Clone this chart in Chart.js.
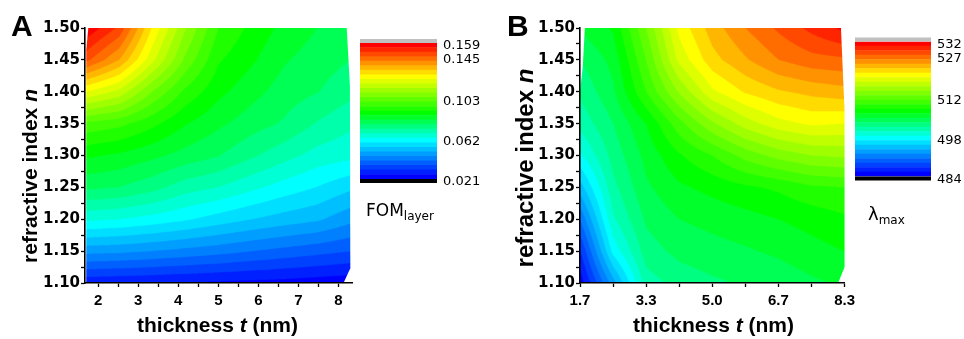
<!DOCTYPE html>
<html>
<head>
<meta charset="utf-8">
<title>FOM_layer and λmax versus thickness and refractive index</title>
<script src="https://cdn.jsdelivr.net/npm/chart.js@4.4.1/dist/chart.umd.min.js"></script>
<style>
  html, body { margin: 0; padding: 0; background: #fff; }
  #stage { position: relative; width: 964px; height: 339px; overflow: hidden;
           font-family: "Liberation Sans", Arial, sans-serif; color: #000; }
  canvas { position: absolute; top: 0; }
  .txt { position: absolute; white-space: nowrap; line-height: 1; }
  .panel { font-weight: bold; font-size: 30px; }
  .xtitle { font-weight: bold; font-size: 21px; transform: translateX(-50%); }
  .ytitle { font-weight: bold; transform: translate(-50%, -50%) rotate(-90deg); }
  .cbtitle { font-family: "DejaVu Sans", sans-serif; }
  .cbtitle span { position: relative; font-size: 12px; }
</style>
</head>
<body>
<div id="stage">
  <canvas id="mapA" width="360" height="339" style="left:0px"></canvas>
  <canvas id="barA" width="124" height="339" style="left:356px"></canvas>
  <canvas id="mapB" width="380" height="339" style="left:480px"></canvas>
  <canvas id="barB" width="113" height="339" style="left:851px"></canvas>

  <div class="txt panel" style="left:11px; top:10.6px">A</div>
  <div class="txt panel" style="left:507px; top:10.6px">B</div>

  <div class="txt xtitle" style="left:217.5px; top:314.2px">thickness <i>t</i> (nm)</div>
  <div class="txt xtitle" style="left:713.5px; top:314.2px">thickness <i>t</i> (nm)</div>

  <div class="txt ytitle" style="left:29.4px; top:175.5px; font-size:21px">refractive index <i>n</i></div>
  <div class="txt ytitle" style="left:525px; top:167.5px; font-size:24px">refractive index <i>n</i></div>

  <div class="txt cbtitle" style="left:366px; top:201.6px; font-size:17px">FOM<span style="top:4px">layer</span></div>
  <div class="txt cbtitle" style="left:868px; top:204.8px; font-size:18px">λ<span style="top:4px">max</span></div>
</div>

<script>
// ---------------- data ----------------
// sampling grid shared by both maps
const thickness = [1.7, 2.525, 3.35, 4.175, 5.0, 5.825, 6.65, 7.475, 8.3];        // t (nm)
const refractiveIndex = [1.10, 1.15, 1.20, 1.25, 1.30, 1.35, 1.40, 1.45, 1.50];   // n

// FOM_layer: one row per refractive index (1.10 -> 1.50), columns follow thickness
const fomLayer = [
  [0.0265, 0.0261, 0.0256, 0.0251, 0.0247, 0.0242, 0.0238, 0.0231, 0.0224],
  [0.0455, 0.0450, 0.0439, 0.0425, 0.0411, 0.0394, 0.0378, 0.0363, 0.0348],
  [0.0634, 0.0624, 0.0606, 0.0584, 0.0557, 0.0532, 0.0511, 0.0493, 0.0454],
  [0.0771, 0.0761, 0.0733, 0.0691, 0.0669, 0.0636, 0.0604, 0.0576, 0.0541],
  [0.0863, 0.0845, 0.0820, 0.0791, 0.0765, 0.0724, 0.0687, 0.0652, 0.0638],
  [0.0980, 0.0960, 0.0913, 0.0857, 0.0818, 0.0784, 0.0756, 0.0712, 0.0679],
  [0.1222, 0.1163, 0.1037, 0.0935, 0.0867, 0.0825, 0.0786, 0.0764, 0.0730],
  [0.1466, 0.1360, 0.1190, 0.1028, 0.0906, 0.0862, 0.0813, 0.0786, 0.0762],
  [0.1585, 0.1489, 0.1263, 0.1089, 0.0946, 0.0888, 0.0840, 0.0808, 0.0790]
];

// λmax (nm): one row per refractive index (1.10 -> 1.50), columns follow thickness
const lambdaMax = [
  [484.5, 492.8, 500.8, 502.2, 502.9, 503.4, 503.8, 504.5, 505.1],
  [486.9, 497.3, 502.4, 503.7, 504.2, 504.6, 505.1, 505.8, 506.4],
  [490.4, 499.7, 503.5, 504.8, 505.3, 505.8, 506.4, 507.0, 507.7],
  [494.4, 501.1, 504.5, 506.1, 506.9, 507.7, 508.3, 509.3, 509.6],
  [498.1, 502.2, 505.3, 507.8, 509.6, 511.8, 513.4, 514.4, 514.7],
  [500.5, 503.2, 506.4, 510.6, 514.1, 516.8, 518.6, 519.5, 519.2],
  [501.9, 504.5, 509.6, 514.6, 518.9, 521.0, 522.2, 522.9, 523.4],
  [503.2, 505.3, 511.2, 518.1, 521.8, 523.8, 525.6, 526.6, 526.9],
  [505.0, 506.6, 512.8, 519.7, 523.2, 525.6, 527.5, 529.3, 530.9]
];

// outline of the computed region, as (t, n) corners
const domainA = [[1.70, 1.10], [8.13, 1.10], [8.30, 1.123], [8.29, 1.41], [8.21, 1.50], [1.75, 1.50], [1.70, 1.465]];
const domainB = [[1.70, 1.10], [8.14, 1.10], [8.30, 1.125], [8.30, 1.37], [8.21, 1.50], [1.82, 1.50], [1.77, 1.44], [1.70, 1.40]];

// colour scales
const fomRange = [0.021, 0.159];
const lambdaRange = [484, 532];
const levelCount = 30;

// tick labels
const thicknessTicksA = [2, 3, 4, 5, 6, 7, 8];
const thicknessTicksB = [1.7, 3.35, 5.0, 6.65, 8.3];
const thicknessLabelsB = ['1.7', '3.3', '5.0', '6.7', '8.3'];
const indexTicks = [1.10, 1.15, 1.20, 1.25, 1.30, 1.35, 1.40, 1.45, 1.50];
const indexLabels = ['1.10', '1.15', '1.20', '1.25', '1.30', '1.35', '1.40', '1.45', '1.50'];
const fomTicks = [0.021, 0.062, 0.103, 0.145, 0.159];
const fomLabels = ['0.021', '0.062', '0.103', '0.145', '0.159'];
const lambdaTicks = [484, 498, 512, 527, 532];
const lambdaLabels = ['484', '498', '512', '527', '532'];

// ---------------- styling helpers ----------------
const rainbowStops = [[0, [0, 0, 255]], [8, [0, 255, 255]], [14, [0, 255, 0]], [22, [255, 255, 0]], [29, [255, 0, 0]]];
function rainbow(count) {
  const out = [];
  for (let k = 0; k < count; k++) {
    let a = 0;
    while (a < rainbowStops.length - 2 && k > rainbowStops[a + 1][0]) a++;
    const [k0, c0] = rainbowStops[a], [k1, c1] = rainbowStops[a + 1];
    const f = (k - k0) / (k1 - k0);
    out.push(c0.map((c, i) => Math.round(c + (c1[i] - c) * f)));
  }
  return out;
}
const palette = rainbow(levelCount);
const paletteCss = palette.map(c => `rgb(${c[0]},${c[1]},${c[2]})`);

// major ticks with an unlabeled minor tick halfway between each pair
function withMinors(values, labels) {
  const list = [];
  values.forEach((v, i) => {
    list.push({ value: v, label: labels[i] });
    if (i < values.length - 1) list.push({ value: (v + values[i + 1]) / 2, label: '' });
  });
  return list;
}

function locate(arr, v) {
  const last = arr.length - 1;
  if (v <= arr[0]) return [0, 0];
  if (v >= arr[last]) return [last - 1, 1];
  let i = 0;
  while (arr[i + 1] < v) i++;
  return [i, (v - arr[i]) / (arr[i + 1] - arr[i])];
}

// filled contour bands painted from the grid through the chart's scales
const contourFill = {
  id: 'contourFill',
  beforeDatasetsDraw(chart) {
    const field = chart.data.datasets[0].field;
    if (!field) return;
    const { ctx } = chart;
    const xs = chart.scales.x, ys = chart.scales.y;
    const T = field.t, N = field.n, Z = field.z;
    const left = Math.floor(xs.getPixelForValue(T[0]));
    const right = Math.ceil(xs.getPixelForValue(T[T.length - 1]));
    const top = Math.floor(ys.getPixelForValue(N[N.length - 1]));
    const bottom = Math.ceil(ys.getPixelForValue(N[0]));
    const S = 3;
    const w = (right - left) * S, h = (bottom - top) * S;
    const off = document.createElement('canvas');
    off.width = w; off.height = h;
    const octx = off.getContext('2d');
    const img = octx.createImageData(w, h);
    const span = field.max - field.min;
    for (let py = 0; py < h; py++) {
      const nv = ys.getValueForPixel(top + (py + 0.5) / S);
      const [j, fy] = locate(N, nv);
      for (let px = 0; px < w; px++) {
        const tv = xs.getValueForPixel(left + (px + 0.5) / S);
        const [i, fx] = locate(T, tv);
        const z = (1 - fy) * ((1 - fx) * Z[j][i] + fx * Z[j][i + 1]) +
                  fy * ((1 - fx) * Z[j + 1][i] + fx * Z[j + 1][i + 1]);
        let k = Math.floor((z - field.min) / span * levelCount);
        k = Math.max(0, Math.min(levelCount - 1, k));
        const c = palette[k];
        const o = (py * w + px) * 4;
        img.data[o] = c[0]; img.data[o + 1] = c[1]; img.data[o + 2] = c[2]; img.data[o + 3] = 255;
      }
    }
    octx.putImageData(img, 0, 0);
    ctx.save();
    ctx.beginPath();
    field.domain.forEach(([t, n], idx) => {
      const X = xs.getPixelForValue(t), Y = ys.getPixelForValue(n);
      if (idx === 0) ctx.moveTo(X, Y); else ctx.lineTo(X, Y);
    });
    ctx.closePath();
    ctx.clip();
    ctx.imageSmoothingEnabled = true;
    ctx.imageSmoothingQuality = 'high';
    ctx.drawImage(off, left, top, right - left, bottom - top);
    ctx.restore();
  }
};

// grey (above range) and black (below range) caps of a colour bar
const barCaps = {
  id: 'barCaps',
  afterDraw(chart) {
    const { ctx, chartArea: a } = chart;
    ctx.save();
    ctx.fillStyle = '#c0c0c0';
    ctx.fillRect(a.left, a.top - 4, a.right - a.left, 4);
    ctx.fillStyle = '#000';
    ctx.fillRect(a.left, a.bottom, a.right - a.left, 4);
    ctx.restore();
  }
};

const tickFontX = { family: '"Liberation Sans", Arial, sans-serif', weight: 'bold', size: 15 };
const tickFontY = { family: '"DejaVu Sans", sans-serif', weight: 'bold', size: 15 };
const axisGrid = { display: true, drawOnChartArea: false, drawTicks: true, tickLength: 4, tickWidth: 1.3, tickColor: '#000' };
const axisBorder = { display: true, color: '#000', width: 1.6, z: 1 };

function makeMap(id, cfg) {
  const nodes = [];
  refractiveIndex.forEach(n => thickness.forEach(t => nodes.push({ x: t, y: n })));
  const xTicks = cfg.xTicks, yTicks = withMinors(indexTicks, indexLabels);
  return new Chart(document.getElementById(id), {
    type: 'scatter',
    data: {
      datasets: [{
        data: nodes,
        pointRadius: 0,
        pointHoverRadius: 0,
        field: { t: thickness, n: refractiveIndex, z: cfg.values, min: cfg.range[0], max: cfg.range[1], domain: cfg.domain }
      }]
    },
    options: {
      responsive: false,
      animation: false,
      events: [],
      layout: { padding: { left: 0, top: 28, right: cfg.padRight, bottom: 0 } },
      plugins: { legend: { display: false }, tooltip: { enabled: false } },
      scales: {
        x: {
          type: 'linear', min: cfg.xMin, max: cfg.xMax,
          afterBuildTicks: s => { s.ticks = xTicks.map(o => ({ value: o.value })); },
          afterFit: s => { s.height = 56; },
          ticks: { autoSkip: false, maxRotation: 0, minRotation: 0, padding: 5, color: '#000', font: tickFontX,
                   callback: (v, i) => xTicks[i] ? xTicks[i].label : '' },
          grid: axisGrid, border: axisBorder
        },
        y: {
          type: 'linear', min: 1.10, max: 1.50,
          afterBuildTicks: s => { s.ticks = yTicks.map(o => ({ value: o.value })); },
          afterFit: s => { s.width = cfg.yWidth; },
          ticks: { autoSkip: false, padding: 1, color: '#000', font: tickFontY,
                   callback: (v, i) => yTicks[i] ? yTicks[i].label : '' },
          grid: axisGrid, border: axisBorder
        }
      }
    },
    plugins: [contourFill]
  });
}

function makeBar(id, cfg) {
  const step = (cfg.range[1] - cfg.range[0]) / levelCount;
  const datasets = paletteCss.map((c, k) => ({
    data: [[cfg.range[0] + k * step, cfg.range[0] + (k + 1) * step]],
    backgroundColor: c, borderWidth: 0, grouped: false,
    barPercentage: 1, categoryPercentage: 1
  }));
  return new Chart(document.getElementById(id), {
    type: 'bar',
    data: { labels: [''], datasets },
    options: {
      responsive: false,
      animation: false,
      events: [],
      layout: { padding: { left: 4, top: cfg.top, right: 0, bottom: cfg.bottom } },
      plugins: { legend: { display: false }, tooltip: { enabled: false } },
      scales: {
        x: { display: false },
        y: {
          position: 'right', min: cfg.range[0], max: cfg.range[1],
          afterBuildTicks: s => { s.ticks = cfg.ticks.map(v => ({ value: v })); },
          afterFit: s => { s.width = cfg.axisWidth; },
          grid: { display: false, drawTicks: false, tickLength: 0 }, border: { display: false },
          ticks: { padding: 6, labelOffset: 3, color: '#000', font: { family: '"DejaVu Sans", sans-serif', size: 13 },
                   callback: (v, i) => cfg.labels[i] }
        }
      }
    },
    plugins: [barCaps]
  });
}

makeMap('mapA', {
  values: fomLayer, range: fomRange, domain: domainA,
  xMin: 1.668, xMax: 8.342, padRight: 8, yWidth: 85,
  xTicks: withMinors(thicknessTicksA, thicknessTicksA.map(String))
});
makeMap('mapB', {
  values: lambdaMax, range: lambdaRange, domain: domainB,
  xMin: 1.7, xMax: 8.3, padRight: 13.3, yWidth: 100,
  xTicks: withMinors(thicknessTicksB, thicknessLabelsB)
});
makeBar('barA', { range: fomRange, ticks: fomTicks, labels: fomLabels, top: 43, bottom: 160, axisWidth: 43 });
makeBar('barB', { range: lambdaRange, ticks: lambdaTicks, labels: lambdaLabels, top: 41.5, bottom: 162.5, axisWidth: 33 });
</script>
</body>
</html>
